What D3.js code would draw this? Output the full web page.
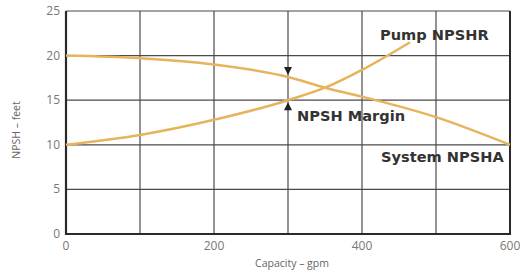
<!DOCTYPE html>
<html>
<head>
<meta charset="utf-8">
<script src="https://cdn.jsdelivr.net/npm/d3@7"></script>
<style>
  body { margin: 0; background: #fff; }
  svg { display: block; }
</style>
</head>
<body>
<div id="chart"></div>
<script>
// values
var capacity = [0, 100, 200, 300, 350, 400, 465];
var pumpNpshr = [10, 11.1, 12.8, 15, 16.4, 18.4, 21.5];

var sysCapacity = [0, 100, 200, 300, 350, 400, 500, 600];
var systemNpsha = [20, 19.7, 19.0, 17.6, 16.4, 15.4, 13.1, 10];

var xTicks = [0, 200, 400, 600];
var xGrid = [0, 100, 200, 300, 400, 500, 600];
var yTicks = [0, 5, 10, 15, 20, 25];

var marginAt = 300;

var width = 520, height = 270;
var plotLeft = 66, plotRight = 510, plotTop = 11, plotBottom = 234;

var x = d3.scaleLinear().domain([0, 600]).range([plotLeft, plotRight]);
var y = d3.scaleLinear().domain([0, 25]).range([plotBottom, plotTop]);

var svg = d3.select('#chart').append('svg')
  .attr('width', width)
  .attr('height', height);

// grid
svg.append('g').selectAll('line').data(xGrid).enter().append('line')
  .attr('x1', function(d) { return x(d); })
  .attr('x2', function(d) { return x(d); })
  .attr('y1', plotTop).attr('y2', plotBottom)
  .attr('stroke', '#4a4a4a').attr('stroke-width', 1.2);

svg.append('g').selectAll('line').data(yTicks).enter().append('line')
  .attr('x1', plotLeft).attr('x2', plotRight)
  .attr('y1', function(d) { return y(d); })
  .attr('y2', function(d) { return y(d); })
  .attr('stroke', '#4a4a4a').attr('stroke-width', 1.2);

// axes frame
svg.append('line').attr('x1', plotLeft).attr('x2', plotLeft).attr('y1', plotTop).attr('y2', plotBottom + 1)
  .attr('stroke', '#2a2a2a').attr('stroke-width', 2.2);
svg.append('line').attr('x1', plotLeft - 1).attr('x2', plotRight + 1).attr('y1', plotBottom).attr('y2', plotBottom)
  .attr('stroke', '#2a2a2a').attr('stroke-width', 2.2);
svg.append('line').attr('x1', plotRight).attr('x2', plotRight).attr('y1', plotTop).attr('y2', plotBottom)
  .attr('stroke', '#2a2a2a').attr('stroke-width', 2);

// tick labels
svg.append('g').selectAll('text').data(yTicks).enter().append('text')
  .text(function(d) { return d; })
  .attr('x', plotLeft - 6)
  .attr('y', function(d) { return y(d) + 4; })
  .attr('text-anchor', 'end')
  .attr('font-family', 'Open Sans, sans-serif')
  .attr('font-size', '12px')
  .attr('fill', '#777');

svg.append('g').selectAll('text').data(xTicks).enter().append('text')
  .text(function(d) { return d; })
  .attr('x', function(d) { return x(d); })
  .attr('y', plotBottom + 16)
  .attr('text-anchor', 'middle')
  .attr('font-family', 'Open Sans, sans-serif')
  .attr('font-size', '12px')
  .attr('fill', '#777');

svg.append('text')
  .text('Capacity – gpm')
  .attr('x', 292).attr('y', 267)
  .attr('text-anchor', 'middle')
  .attr('font-family', 'Open Sans, sans-serif')
  .attr('font-size', '10.5px')
  .attr('fill', '#666');

svg.append('text')
  .text('NPSH – feet')
  .attr('transform', 'translate(20,130) rotate(-90)')
  .attr('text-anchor', 'middle')
  .attr('font-family', 'Open Sans, sans-serif')
  .attr('font-size', '10.5px')
  .attr('fill', '#666');

// curves
var line = d3.line()
  .x(function(d) { return x(d[0]); })
  .y(function(d) { return y(d[1]); })
  .curve(d3.curveMonotoneX);

svg.append('path')
  .datum(d3.zip(sysCapacity, systemNpsha))
  .attr('d', line)
  .attr('fill', 'none')
  .attr('stroke', '#e6b45c')
  .attr('stroke-width', 2.5);

svg.append('path')
  .datum(d3.zip(capacity, pumpNpshr))
  .attr('d', line)
  .attr('fill', 'none')
  .attr('stroke', '#e6b45c')
  .attr('stroke-width', 2.5);

// margin arrows
var ax = x(marginAt);
var yA = y(systemNpsha[sysCapacity.indexOf(marginAt)]) - 2;
var yB = y(pumpNpshr[capacity.indexOf(marginAt)]) + 2;
svg.append('path')
  .attr('d', 'M' + (ax - 4) + ',' + (yA - 8) + 'L' + (ax + 4) + ',' + (yA - 8) + 'L' + ax + ',' + yA + 'Z')
  .attr('fill', '#222');
svg.append('path')
  .attr('d', 'M' + (ax - 4) + ',' + (yB + 8) + 'L' + (ax + 4) + ',' + (yB + 8) + 'L' + ax + ',' + yB + 'Z')
  .attr('fill', '#222');

// labels
var labels = [
  { t: 'Pump NPSHR', x: 380, y: 40 },
  { t: 'NPSH Margin', x: 297, y: 121 },
  { t: 'System NPSHA', x: 381, y: 162 }
];
svg.append('g').selectAll('text').data(labels).enter().append('text')
  .text(function(d) { return d.t; })
  .attr('x', function(d) { return d.x; })
  .attr('y', function(d) { return d.y; })
  .attr('font-family', 'DejaVu Sans, sans-serif')
  .attr('font-weight', 'bold')
  .attr('font-size', '14.6px')
  .attr('fill', '#333');
</script>
</body>
</html>
